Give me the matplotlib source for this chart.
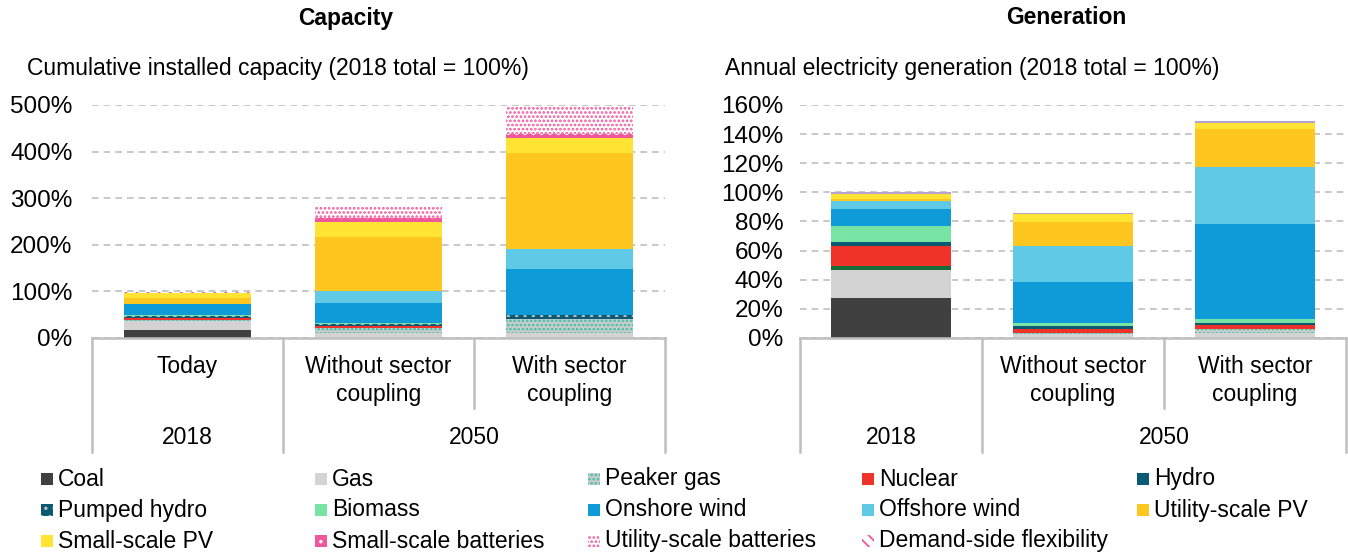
import matplotlib.pyplot as plt
from matplotlib.patches import Rectangle
import matplotlib.transforms as mtransforms
import numpy as np

plt.rcParams['font.family'] = ['Liberation Sans', 'DejaVu Sans']
plt.rcParams['hatch.linewidth'] = 1.3

# ---- data (% of 2018 total) ----
cap_cats = ['Today', 'Without sector\ncoupling', 'With sector\ncoupling']
gen_cats = ['', 'Without sector\ncoupling', 'With sector\ncoupling']
years = ['2018', '2050']

cap_techs = ['Coal', 'Gas', 'Peaker gas', 'Nuclear', 'Hydro', 'Pumped hydro',
             'Biomass', 'Onshore wind', 'Offshore wind', 'Utility-scale PV',
             'Small-scale PV', 'Small-scale batteries', 'Utility-scale batteries',
             'Demand-side flexibility']
cap_coal = [17, 0, 0]
cap_gas = [19, 10, 10]
cap_peaker = [2, 12, 31]
cap_nuclear = [5, 3, 0]
cap_hydro = [3, 3, 4]
cap_pumped = [1, 2, 4]
cap_biomass = [2, 2, 1]
cap_onshore = [23, 43, 98]
cap_offshore = [2, 25, 43]
cap_utilpv = [11, 116, 205]
cap_smallpv = [11, 33, 33]
cap_smallbatt = [0.5, 9, 9]
cap_utilbatt = [0, 24, 58]
cap_dsf = [2, 0, 0]

gen_techs = ['Coal', 'Gas', 'Peaker gas', 'Oil', 'Nuclear', 'Hydro', 'Biomass',
             'Onshore wind', 'Offshore wind', 'Utility-scale PV', 'Small-scale PV', 'Other']
gen_coal = [27.7, 0, 0]
gen_gas = [19, 2.5, 3.2]
gen_peaker = [0, 1, 2.7]
gen_oil = [3, 0, 0]
gen_nuclear = [13.5, 2.5, 3]
gen_hydro = [3, 2.5, 1.2]
gen_biomass = [10.8, 1.6, 2.7]
gen_onshore = [11.7, 28.6, 65.2]
gen_offshore = [5.7, 24.7, 39.6]
gen_utilpv = [1, 16, 25.9]
gen_smallpv = [3.4, 5.7, 4.3]
gen_other = [1.8, 1, 1.4]

cap_values = [cap_coal, cap_gas, cap_peaker, cap_nuclear, cap_hydro, cap_pumped,
              cap_biomass, cap_onshore, cap_offshore, cap_utilpv, cap_smallpv,
              cap_smallbatt, cap_utilbatt, cap_dsf]
gen_values = [gen_coal, gen_gas, gen_peaker, gen_oil, gen_nuclear, gen_hydro,
              gen_biomass, gen_onshore, gen_offshore, gen_utilpv, gen_smallpv, gen_other]

PINK = '#f0589b'
# facecolor, hatch, hatch colour
styles = {
    'Coal': ('#404040', None, None),
    'Gas': ('#d3d3d3', None, None),
    'Peaker gas': ('#cccccc', '....', '#3fc1a6'),
    'Oil': ('#186c3a', None, None),
    'Nuclear': ('#ef3328', None, None),
    'Hydro': ('#0b5a74', None, None),
    'Pumped hydro': ('#0b5a74', '..', '#bdbdbd'),
    'Biomass': ('#77e3a4', None, None),
    'Onshore wind': ('#0f9bd8', None, None),
    'Offshore wind': ('#5fc9e6', None, None),
    'Utility-scale PV': ('#ffc61f', None, None),
    'Small-scale PV': ('#ffe433', None, None),
    'Small-scale batteries': (PINK, '..', 'white'),
    'Utility-scale batteries': ('white', '....', PINK),
    'Demand-side flexibility': ('white', '\\\\\\', PINK),
    'Other': ('#b3a3cf', None, None),
}

FS = 16.5

fig = plt.figure(figsize=(13.48, 5.56), dpi=100)
W, H = 1348, 556

ax1 = fig.add_axes([92 / W, 1 - 338 / H, 573 / W, 233 / H])
ax2 = fig.add_axes([800 / W, 1 - 338 / H, 546 / W, 233 / H])


def draw_panel(ax, techs, values, cats, ymax, step, pad, width):
    x = np.arange(len(cats))
    bottom = np.zeros(len(cats))
    for name, vals in zip(techs, values):
        fc, hatch, hc = styles[name]
        ax.bar(x, vals, width, bottom=bottom, color=fc, hatch=hatch,
               edgecolor=hc if hc else fc, linewidth=0)
        bottom += np.array(vals, dtype=float)
    ax.set_xlim(-0.5, len(cats) - 0.5)
    ax.set_ylim(0, ymax)
    ticks = np.arange(0, ymax + 1, step)
    ax.set_yticks(ticks)
    ax.set_yticklabels([f'{t:.0f}%' for t in ticks], fontsize=17.5)
    ax.tick_params(axis='y', length=0, pad=pad)
    ax.set_xticks([])
    ax.yaxis.grid(True, ls=(0, (4, 3)), color='#bfbfbf', lw=1.2)
    ax.set_axisbelow(True)
    for s in ['left', 'right', 'top']:
        ax.spines[s].set_visible(False)
    ax.spines['bottom'].set_color('#bfbfbf')
    ax.spines['bottom'].set_linewidth(1.8)

    tr = mtransforms.blended_transform_factory(ax.transData, ax.transAxes)
    for xb, ylow in [(-0.5, -0.489), (0.5, -0.489), (1.5, -0.30), (2.5, -0.489)]:
        ax.plot([xb, xb], [0, ylow], transform=tr, clip_on=False,
                color='#bfbfbf', lw=1.8)
    for i, c in enumerate(cats):
        ax.text(i, -0.075, c, transform=tr, ha='center', va='top',
                fontsize=FS, linespacing=1.25)
    ax.text(0, -0.425, years[0], transform=tr, ha='center', va='center', fontsize=FS)
    ax.text(1.5, -0.425, years[1], transform=tr, ha='center', va='center', fontsize=FS)


draw_panel(ax1, cap_techs, cap_values, cap_cats, 500, 100, 14, 0.66)
draw_panel(ax2, gen_techs, gen_values, gen_cats, 160, 20, 12, 0.66)

fig.text(346 / W, 1 - 18 / H, 'Capacity', ha='center', va='center',
         fontsize=FS, fontweight='bold')
fig.text(1066 / W, 1 - 18 / H, 'Generation', ha='center', va='center',
         fontsize=FS, fontweight='bold')
fig.text(27 / W, 1 - 68 / H, 'Cumulative installed capacity (2018 total = 100%)',
         ha='left', va='center', fontsize=FS)
fig.text(725 / W, 1 - 68 / H, 'Annual electricity generation (2018 total = 100%)',
         ha='left', va='center', fontsize=FS)

# legend, row-major like the original
col_x = [41, 315, 588, 862, 1137]
row_y = [479, 510, 541]
for k, name in enumerate(cap_techs):
    r, c = divmod(k, 5)
    fc, hatch, hc = styles[name]
    x0, y0 = col_x[c], row_y[r]
    fig.patches.append(Rectangle((x0 / W, 1 - (y0 + 6) / H), 12 / W, 12 / H,
                                 transform=fig.transFigure, facecolor=fc,
                                 hatch=hatch, edgecolor=hc if hc else fc,
                                 linewidth=0))
    fig.text((x0 + 17) / W, 1 - y0 / H, name, ha='left', va='center', fontsize=FS)

fig.savefig('out.png', dpi=100)
